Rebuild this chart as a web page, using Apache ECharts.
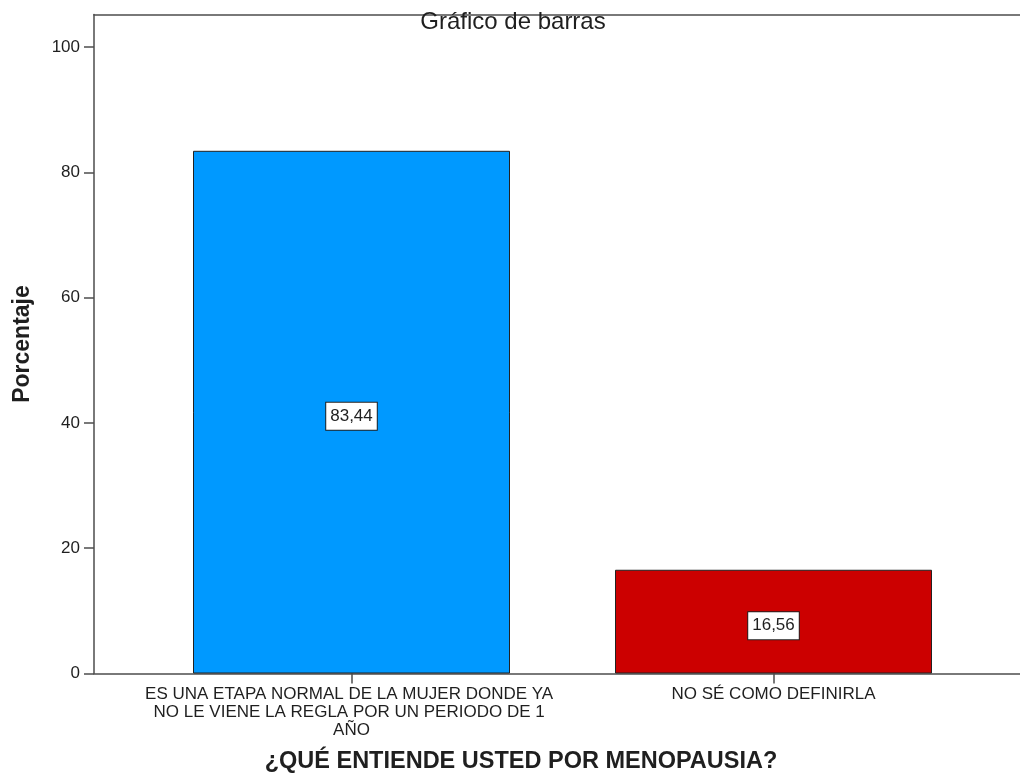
<!DOCTYPE html>
<html>
<head>
<meta charset="utf-8">
<script src="https://cdn.jsdelivr.net/npm/echarts@6/dist/echarts.min.js"></script>
<style>
html,body{margin:0;padding:0;background:#fff;}
#chart{width:1020px;height:774px;}
</style>
</head>
<body>
<div id="chart"></div>
<script>
const chartTitle = "Gráfico de barras";
const xAxisTitle = "¿QUÉ ENTIENDE USTED POR MENOPAUSIA?";
const yAxisTitle = "Porcentaje";
const categories = ["ES UNA ETAPA NORMAL DE LA MUJER DONDE YA NO LE VIENE LA REGLA POR UN PERIODO DE 1 AÑO", "NO SÉ COMO DEFINIRLA"];
const percentages = [83.44, 16.56];
const barColors = ["#0099ff", "#cc0000"];
const yTicks = [0, 20, 40, 60, 80, 100];

const FONT = "'Liberation Sans', Arial, sans-serif";
const AXIS_COLOR = "#4d4d4d";
const TEXT_COLOR = "#1f1f1f";
const Y_MAX = 105.2;

const chart = echarts.init(document.getElementById('chart'), null, {renderer: 'canvas'});
chart.setOption({
  backgroundColor: '#ffffff',
  animation: false,
  title: {
    text: chartTitle,
    left: 513, top: 10, textAlign: 'center', padding: 0,
    textStyle: {fontFamily: FONT, fontSize: 24, fontWeight: 'normal', color: TEXT_COLOR}
  },
  grid: [
    {left: 94, right: 0, top: 14.5, bottom: 100.5, containLabel: false, outerBoundsMode: 'none'},
    {left: 140.5, right: 35.5, top: 14.5, bottom: 100.5, containLabel: false, outerBoundsMode: 'none'}
  ],
  xAxis: [{
    gridIndex: 0, type: 'value', min: 0, max: 1, position: 'bottom',
    name: xAxisTitle, nameLocation: 'middle', nameGap: 76,
    nameTextStyle: {fontFamily: FONT, fontSize: 23.5, fontWeight: 'bold', color: TEXT_COLOR, padding: [0, 72, 0, 0]},
    axisLine: {show: true, onZero: false, lineStyle: {color: AXIS_COLOR, width: 1.5}},
    axisTick: {show: false}, axisLabel: {show: false}, splitLine: {show: false}
  }, {
    gridIndex: 0, type: 'value', min: 0, max: 1, position: 'top',
    axisLine: {show: true, onZero: false, lineStyle: {color: AXIS_COLOR, width: 1.5}},
    axisTick: {show: false}, axisLabel: {show: false}, splitLine: {show: false}
  }, {
    gridIndex: 1, type: 'category', data: categories, position: 'bottom',
    axisLine: {show: false, onZero: false},
    axisTick: {show: true, alignWithLabel: true, length: 10, inside: false, interval: 0, lineStyle: {color: AXIS_COLOR, width: 1.5}},
    axisLabel: {
      interval: 0, margin: 12,
      fontFamily: FONT, fontSize: 17, lineHeight: 18, color: TEXT_COLOR,
      width: 425, overflow: 'break', align: 'center'
    },
    splitLine: {show: false}
  }],
  yAxis: [{
    gridIndex: 0, type: 'value', min: 0, max: Y_MAX,
    name: yAxisTitle, nameLocation: 'middle', nameGap: 60, nameRotate: 90,
    nameTextStyle: {fontFamily: FONT, fontSize: 23, fontWeight: 'bold', color: TEXT_COLOR},
    axisLine: {show: true, onZero: false, lineStyle: {color: AXIS_COLOR, width: 1.5}},
    axisTick: {show: true, length: 10, inside: false, customValues: yTicks, lineStyle: {color: AXIS_COLOR, width: 1.5}},
    axisLabel: {customValues: yTicks, margin: 14, fontFamily: FONT, fontSize: 17, color: TEXT_COLOR},
    splitLine: {show: false}
  }, {
    gridIndex: 1, type: 'value', min: 0, max: Y_MAX, show: false
  }],
  series: [{
    type: 'bar',
    xAxisIndex: 2, yAxisIndex: 1,
    barWidth: 317,
    data: percentages.map((v, i) => ({
      value: v,
      itemStyle: {color: barColors[i], borderColor: '#222', borderWidth: 1}
    })),
    label: {
      show: true, position: 'inside', offset: [0, 4],
      formatter: p => p.value.toFixed(2).replace('.', ','),
      fontFamily: FONT, fontSize: 17, lineHeight: 20, color: TEXT_COLOR,
      backgroundColor: '#ffffff', borderColor: '#222', borderWidth: 1,
      padding: [4, 4, 3, 4]
    }
  }]
});
</script>
</body>
</html>
